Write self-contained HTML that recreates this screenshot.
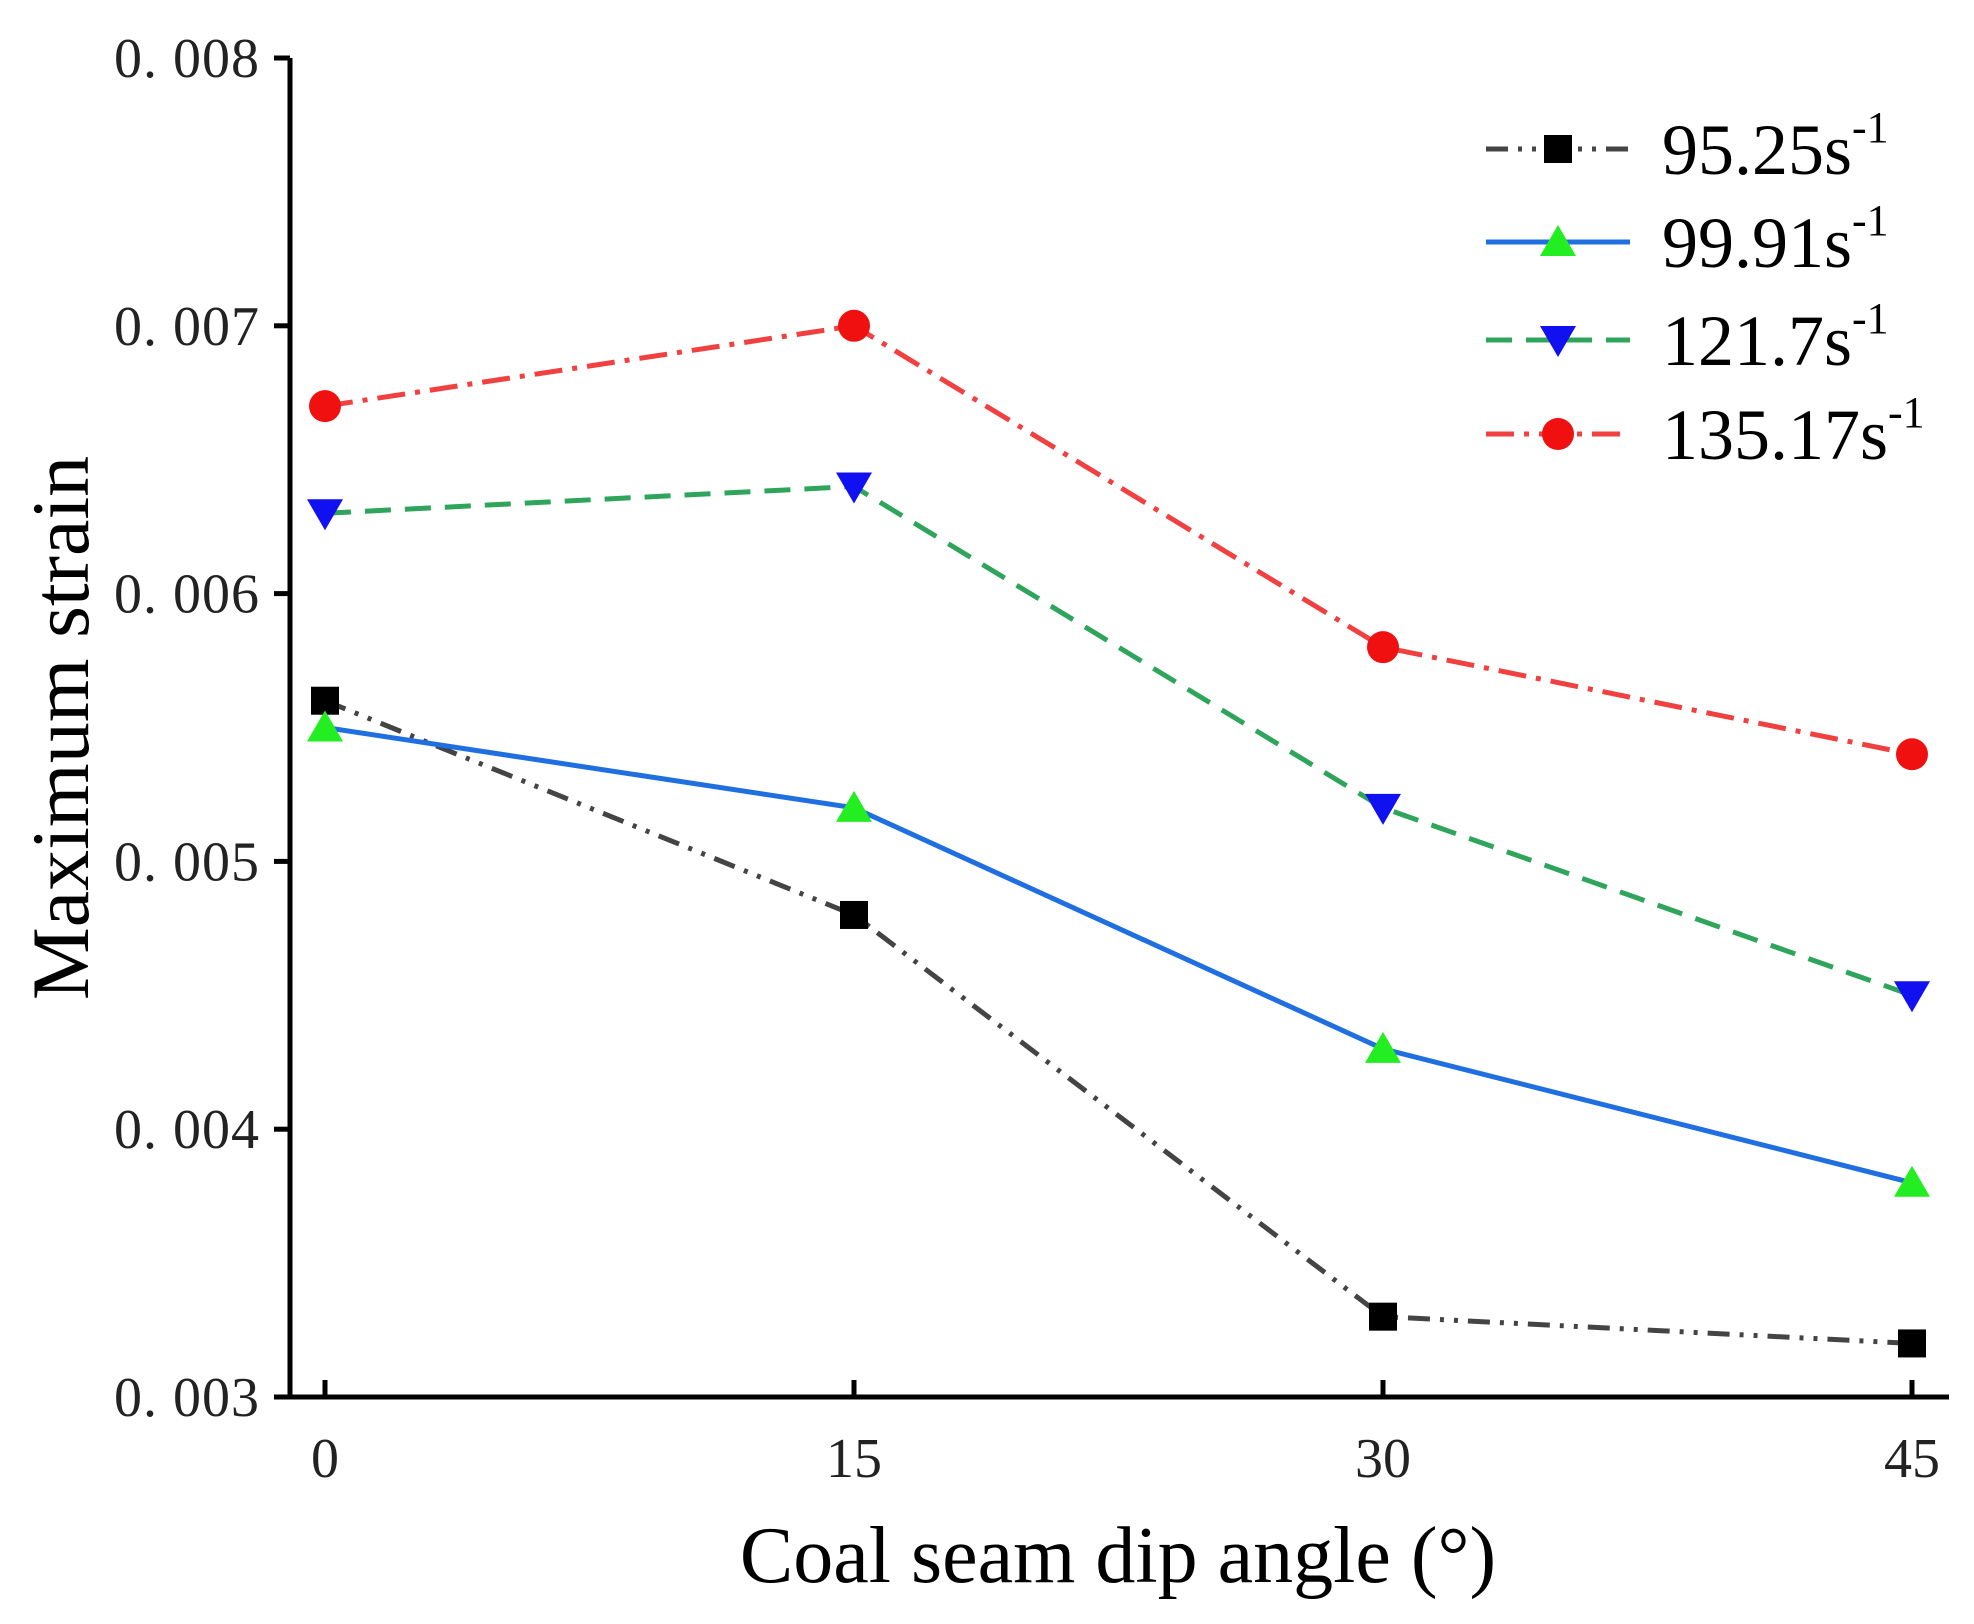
<!DOCTYPE html>
<html><head><meta charset="utf-8"><style>
html,body{margin:0;padding:0;background:#fff;}
svg{display:block;}
text{font-family:"Liberation Serif","Noto Serif CJK SC",serif;}
</style></head><body>
<svg id="chart" width="1974" height="1624" viewBox="0 0 1974 1624" xmlns="http://www.w3.org/2000/svg"></svg>
<script>
const categories = [0, 15, 30, 45];
const yTicks = [0.003, 0.004, 0.005, 0.006, 0.007, 0.008];
const yTickLabels = ["0. 003", "0. 004", "0. 005", "0. 006", "0. 007", "0. 008"];
const s95 = [0.0056, 0.0048, 0.0033, 0.0032];
const s99 = [0.0055, 0.0052, 0.0043, 0.0038];
const s121 = [0.0063, 0.0064, 0.0052, 0.0045];
const s135 = [0.0067, 0.0070, 0.0058, 0.0054];
const seriesNames = ["95.25", "99.91", "121.7", "135.17"];

const NS = "http://www.w3.org/2000/svg";
const svg = document.getElementById('chart');
const axX = 290, axY = 1397, axTop = 58, axRight = 1949;
const x0 = 325, x1 = 1912;
function xs(v){ return x0 + (v - 0) / (45 - 0) * (x1 - x0); }
function ys(v){ return axY - (v - 0.003) / (0.008 - 0.003) * (axY - axTop); }
function mk(tag, attrs, parent){
  const e = document.createElementNS(NS, tag);
  for (const k in attrs) e.setAttribute(k, attrs[k]);
  (parent || svg).appendChild(e);
  return e;
}

let a = mk('line', {x1:axX, y1:axTop, x2:axX, y2:axY+2.5, stroke:'#000', 'stroke-width':5});


a = mk('line', {x1:axX-2.5, y1:axY, x2:axRight, y2:axY, stroke:'#000', 'stroke-width':5});



yTicks.forEach((t, i) => {
  const y = ys(t);
  const tk = mk('line', {x1:axX-16, y1:y, x2:axX, y2:y, stroke:'#000', 'stroke-width':5});
  
  
  const lb = mk('text', {x:260, y:y+19, 'text-anchor':'end', 'font-size':56, fill:'#222', 'letter-spacing':1});
  lb.textContent = yTickLabels[i];
  
  
});
categories.forEach(c => {
  const x = xs(c);
  const tk = mk('line', {x1:x, y1:axY-17, x2:x, y2:axY, stroke:'#000', 'stroke-width':5});
  
  
  const lb = mk('text', {x:x, y:1477, 'text-anchor':'middle', 'font-size':56, fill:'#222'});
  lb.textContent = String(c);
  
  
});

let t = mk('text', {x:0, y:0, transform:'translate(88,728) rotate(-90)', 'text-anchor':'middle', 'font-size':82, fill:'#000'});
t.textContent = 'Maximum strain';


t = mk('text', {x:1118, y:1582, 'text-anchor':'middle', 'font-size':80, fill:'#000'});
t.textContent = 'Coal seam dip angle (°)';



const styles = [
  {data:s95, color:'#444', dash:'22,10,4,10,4,10', marker:'square', mcolor:'#000'},
  {data:s99, color:'#1f6fe0', dash:'', marker:'tri-up', mcolor:'#22ee22'},
  {data:s121, color:'#2ea55a', dash:'26,14', marker:'tri-down', mcolor:'#1010f0'},
  {data:s135, color:'#f04040', dash:'28,10,5,10', marker:'circle', mcolor:'#f01010'}
];
function marker(type, x, y, color, g){
  let m;
  if (type === 'square') m = mk('rect', {x:x-14, y:y-14, width:28, height:28, fill:color}, g);
  else if (type === 'circle') m = mk('circle', {cx:x, cy:y, r:16, fill:color}, g);
  else if (type === 'tri-up') m = mk('polygon', {points:`${x-18},${y+14} ${x+18},${y+14} ${x},${y-17}`, fill:color}, g);
  else m = mk('polygon', {points:`${x-18},${y-14} ${x+18},${y-14} ${x},${y+17}`, fill:color}, g);
  return m;
}
styles.forEach((s, si) => {
  const g = mk('g', {});
  
  
  const pts = s.data.map((v, i) => xs(categories[i]) + ',' + ys(v)).join(' ');
  const pl = mk('polyline', {points:pts, fill:'none', stroke:s.color, 'stroke-width':5, 'stroke-dasharray':s.dash}, g);
  
  
  s.data.forEach((v, i) => {
    const m = marker(s.marker, xs(categories[i]), ys(v), s.mcolor, g);
    
    
  });
  const ly = [149, 242, 340, 434][si];
  const lg = mk('g', {});
  
  
  mk('line', {x1:1486, y1:ly, x2:1630, y2:ly, stroke:s.color, 'stroke-width':5, 'stroke-dasharray':s.dash}, lg);
  marker(s.marker, 1558, ly, s.mcolor, lg);
  const tx = mk('text', {x:1662, y:ly+25, 'font-size':72, fill:'#000'}, lg);
  tx.textContent = seriesNames[si] + 's';
  const sup = mk('tspan', {'font-size':44, dy:-32}, tx);
  sup.textContent = '-1';
});
</script>
</body></html>
